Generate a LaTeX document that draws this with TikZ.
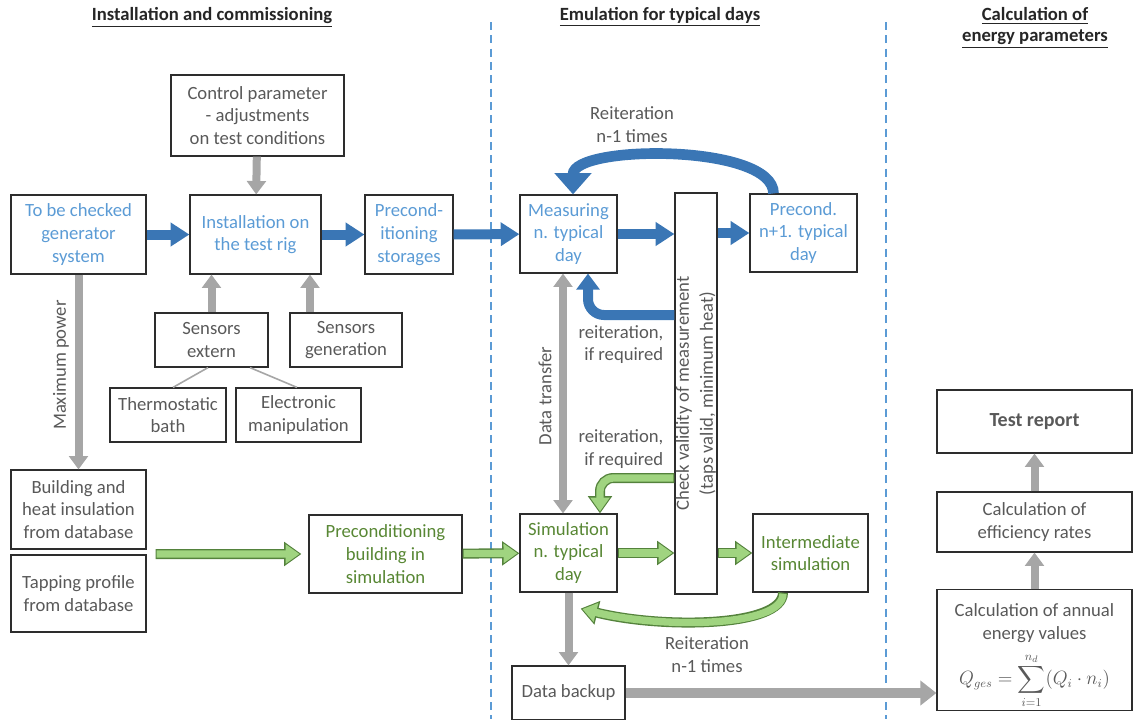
\documentclass[tikz,border=0pt]{standalone}
\usepackage{amsmath}
\usepackage{fontspec}
\setmainfont{Carlito}
\usetikzlibrary{arrows.meta,calc}

\definecolor{txtblue}{RGB}{91,155,213}
\definecolor{arrblue}{RGB}{58,118,181}
\definecolor{txtgreen}{RGB}{88,135,52}
\definecolor{arrgreen}{RGB}{160,212,128}
\definecolor{edgegreen}{RGB}{84,130,60}
\definecolor{txtgrey}{RGB}{89,89,89}
\definecolor{arrgrey}{RGB}{166,166,166}
\definecolor{boxline}{RGB}{45,45,45}

\tikzset{
  box/.style={draw=boxline, line width=0.9pt, align=center, inner sep=1pt,
    text=txtgrey, font=\fontsize{14}{17}\selectfont},
  bluebox/.style={box, text=txtblue},
  greenbox/.style={box, text=txtgreen},
  lbl/.style={align=center, text=txtgrey, font=\fontsize{14}{17}\selectfont},
  ttl/.style={align=center, text=black!85, font=\fontsize{14}{16}\selectfont\bfseries},
  sep/.style={draw=txtblue, line width=0.8pt, dash pattern=on 6pt off 4pt},
  bluearr/.style={draw=arrblue, line width=7.5pt, -{Triangle[width=17pt,length=14pt]}},
  greyarr/.style={draw=arrgrey, line width=6pt, -{Triangle[width=14pt,length=10pt]}},
  greenarr/.style={draw=arrgreen, line width=5.5pt, shorten >=1.4pt, shorten <=0.8pt,
    -{Triangle[width=14pt,length=10.5pt]},
    preaction={draw=edgegreen, line width=7.5pt, shorten >=0pt, shorten <=0pt,
      -{Triangle[width=17.5pt,length=13pt]}}},
}

\begin{document}
\begin{tikzpicture}[x=0.75pt, y=-0.75pt]
\useasboundingbox (0,0) rectangle (1133,719);

% column titles and separators
\node[ttl] (t1) at (212,17) {\underline{Installation and commissioning}};
\node[ttl] (t2) at (660,17) {\underline{Emulation for typical days}};
\node[ttl] (t3) at (1035,28) {\underline{Calculation of}\\\underline{energy parameters}};
\draw[sep] (491,22) -- (491,719);
\draw[sep] (886,22) -- (886,719);

% installation and commissioning
\node[box, minimum width=129.75pt, minimum height=60.75pt] (ctrl) at (257.5,115.5)
  {Control parameter\\- adjustments\\on test conditions};
\node[bluebox, minimum width=101.25pt, minimum height=59.25pt] (gen) at (78.5,234.5)
  {To be checked\\generator\\system};
\node[bluebox, minimum width=98.25pt, minimum height=59.25pt] (inst) at (255.5,234.5)
  {Installation on\\the test rig};
\node[bluebox, minimum width=66pt, minimum height=59.25pt] (pstor) at (409,234.5)
  {Precond-\\itioning\\storages};
\node[box, minimum width=84.75pt, minimum height=40.5pt] (sext) at (211.5,340)
  {Sensors\\extern};
\node[box, minimum width=84pt, minimum height=40.5pt] (sgen) at (346,340)
  {Sensors\\generation};
\node[box, minimum width=87pt, minimum height=40.5pt] (thermo) at (168,415)
  {Thermostatic\\bath};
\node[box, minimum width=93.75pt, minimum height=40.5pt] (elec) at (298.5,415)
  {Electronic\\manipulation};
\node[box, minimum width=101.25pt, minimum height=59.25pt] (bldg) at (78.5,509.5)
  {Building and\\heat insulation\\from database};
\node[box, minimum width=101.25pt, minimum height=57.75pt] (tap) at (78.5,593.5)
  {Tapping profile\\from database};
\node[greenbox, minimum width=114.75pt, minimum height=58.5pt] (pbld) at (385.5,554)
  {Preconditioning\\building in\\simulation};

% emulation for typical days
\node[bluebox, minimum width=72.75pt, minimum height=58.5pt] (meas) at (568.5,234)
  {Measuring\\n. typical\\day};
\node[bluebox, minimum width=80.25pt, minimum height=58.5pt] (pnext) at (803.5,233)
  {Precond.\\n+1. typical\\day};
\node[box, minimum width=31.5pt, minimum height=300.75pt] (check) at (696,393.5) {};
\node[lbl, rotate=90, font=\fontsize{14}{18}\selectfont] (checktxt) at (check)
  {Check validity of measurement\\(taps valid, minimum heat)};
\node[greenbox, minimum width=72.75pt, minimum height=58.5pt] (sim) at (568.5,553)
  {Simulation\\n. typical\\day};
\node[greenbox, minimum width=86.25pt, minimum height=58.5pt] (inter) at (810.5,553)
  {Intermediate\\simulation};
\node[box, minimum width=84.75pt, minimum height=40.5pt] (backup) at (568.5,693)
  {Data backup};

% calculation of energy parameters
\node[box, minimum width=146.25pt, minimum height=47.25pt, font=\fontsize{15}{18}\selectfont\bfseries]
  (report) at (1034.5,421.5) {Test report};
\node[box, minimum width=146.25pt, minimum height=45pt] (eff) at (1034.5,522)
  {Calculation of\\efficiency rates};
\node[box, minimum width=146.25pt, minimum height=87pt] (annual) at (1034.5,650)
  {\rule{0pt}{19pt}Calculation of annual\\energy values\\[7pt]
   {\fontsize{13.5}{15}\selectfont$\displaystyle Q_{ges}=\sum_{i=1}^{n_d}(Q_i\cdot n_i)$}};

% labels
\node[lbl] (reit1) at (632,124.5) {Reiteration\\n-1 times};
\node[lbl, align=right, anchor=east] (req1) at (668,344.5) {reiteration,\\if required};
\node[lbl, align=right, anchor=east] (req2) at (668,449) {reiteration,\\if required};
\node[lbl] (reit2) at (707,654.5) {Reiteration\\n-1 times};
\node[lbl, rotate=90] (maxp) at (61,365) {Maximum power};
\node[lbl, rotate=90] (dtrans) at (545,396) {Data transfer};

% grey connectors
\draw[draw=arrgrey, line width=1.2pt] ($(sext.south)+(-3.5,0)$) -- ($(thermo.north)+(5,0)$);
\draw[draw=arrgrey, line width=1.2pt] ($(sext.south)+(38.5,0)$) -- ($(elec.north)+(-1.5,0)$);
\draw[greyarr] (ctrl) -- (inst);
\draw[greyarr] (sext.north) -- (sext.north |- inst.south);
\draw[greyarr] ($(sgen.north)+(-36,0)$) -- ($(sgen.north |- inst.south)+(-36,0)$);
\draw[greyarr] (gen) -- (bldg);
\draw[greyarr, {Triangle[width=14pt,length=10pt]}-{Triangle[width=14pt,length=10pt]}]
  ($(meas.south)+(-5.5,0)$) -- ($(sim.north)+(-5.5,0)$);
\draw[greyarr] (sim) -- (backup);
\draw[greyarr, line width=7pt, -{Triangle[width=18pt,length=12pt]}] (backup.east) -- (backup.east -| annual.west);
\draw[greyarr] (annual) -- (eff);
\draw[greyarr] (eff) -- (report);

% blue connectors
\draw[bluearr] (gen) -- (inst);
\draw[bluearr] (inst) -- (pstor);
\draw[bluearr] (pstor) -- (meas);
\draw[bluearr] (meas.east) -- (meas.east -| check.west);
\draw[bluearr] (pnext.west -| check.east) -- (pnext.west);
\draw[bluearr, -{Triangle[width=17pt,length=12pt]}, rounded corners=12pt]
  ($(check.west)+(0,-78.5)$) -| ($(meas.south)+(19.5,0)$);
\draw[bluearr, line width=8pt, -{Triangle[width=27pt,length=16pt]}]
  ($(pnext.north)+(-30,0)$) .. controls +(0,-50) and +(0,-50) .. ($(meas.north)+(4.5,0)$);

% green connectors
\draw[greenarr] ($(bldg.south east)!0.5!(tap.north east)+(9,2)$) -- ($(pbld.west)+(-7,0)$);
\draw[greenarr] (pbld) -- (sim);
\draw[greenarr] (sim.east) -- (sim.east -| check.west);
\draw[greenarr] (check.east |- inter.west) -- (inter.west);
\draw[greenarr, rounded corners=10pt]
  ($(check.west)+(0,84.5)$) -| ($(sim.north)+(31.5,0)$);
\draw[greenarr]
  ($(inter.south)+(-27.5,0)$) .. controls +(0,35) and +(80,20) .. ($(sim.south east)+(-37,16)$);
\end{tikzpicture}
\end{document}
